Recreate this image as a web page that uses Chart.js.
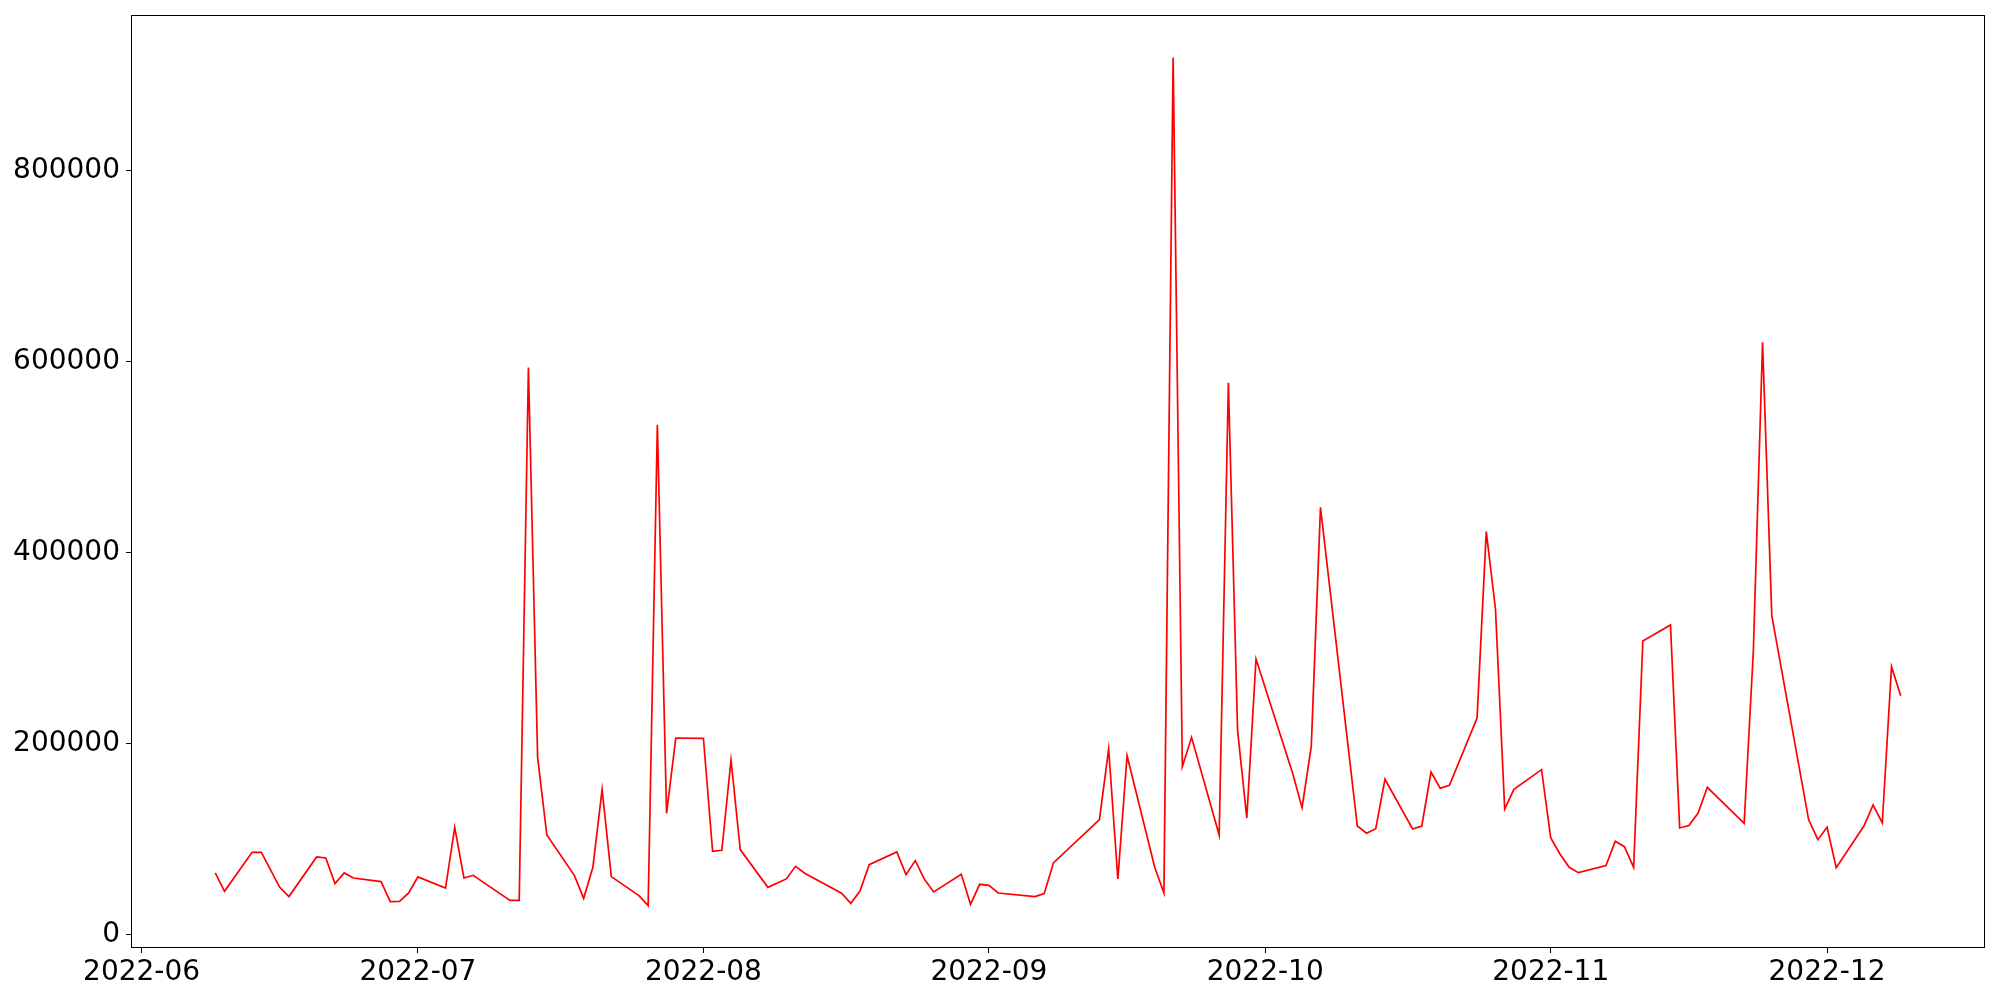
<!DOCTYPE html>
<html>
<head>
<meta charset="utf-8">
<script src="https://cdn.jsdelivr.net/npm/chart.js@4.4.1/dist/chart.umd.min.js"></script>
<style>
    html, body { margin: 0; padding: 0; background: white; }
    #wrap { width: 2000px; height: 1000px; }
</style>
</head>
<body>
<div id="wrap"><canvas id="volumeChart" width="2000" height="1000"></canvas></div>
<script>
// Trading days and values
const dates = [
    "2022-06-09", "2022-06-10", "2022-06-13", "2022-06-14", "2022-06-16", "2022-06-17",
    "2022-06-20", "2022-06-21", "2022-06-22", "2022-06-23", "2022-06-24",
    "2022-06-27", "2022-06-28", "2022-06-29", "2022-06-30", "2022-07-01",
    "2022-07-04", "2022-07-05", "2022-07-06", "2022-07-07",
    "2022-07-11", "2022-07-12", "2022-07-13", "2022-07-14", "2022-07-15",
    "2022-07-18", "2022-07-19", "2022-07-20", "2022-07-21", "2022-07-22",
    "2022-07-25", "2022-07-26", "2022-07-27", "2022-07-28", "2022-07-29",
    "2022-08-01", "2022-08-02", "2022-08-03", "2022-08-04", "2022-08-05",
    "2022-08-08", "2022-08-10", "2022-08-11", "2022-08-12",
    "2022-08-16", "2022-08-17", "2022-08-18", "2022-08-19",
    "2022-08-22", "2022-08-23", "2022-08-24", "2022-08-25", "2022-08-26",
    "2022-08-29", "2022-08-30", "2022-08-31", "2022-09-01", "2022-09-02",
    "2022-09-06", "2022-09-07", "2022-09-08",
    "2022-09-13", "2022-09-14", "2022-09-15", "2022-09-16",
    "2022-09-19", "2022-09-20", "2022-09-21", "2022-09-22", "2022-09-23",
    "2022-09-26", "2022-09-27", "2022-09-28", "2022-09-29", "2022-09-30",
    "2022-10-04", "2022-10-05", "2022-10-06", "2022-10-07",
    "2022-10-11", "2022-10-12", "2022-10-13", "2022-10-14",
    "2022-10-17", "2022-10-18", "2022-10-19", "2022-10-20", "2022-10-21",
    "2022-10-24", "2022-10-25", "2022-10-26", "2022-10-27", "2022-10-28",
    "2022-10-31", "2022-11-01", "2022-11-02", "2022-11-03", "2022-11-04",
    "2022-11-07", "2022-11-08", "2022-11-09", "2022-11-10", "2022-11-11",
    "2022-11-14", "2022-11-15", "2022-11-16", "2022-11-17", "2022-11-18",
    "2022-11-22", "2022-11-23", "2022-11-24", "2022-11-25",
    "2022-11-29", "2022-11-30", "2022-12-01", "2022-12-02",
    "2022-12-05", "2022-12-06", "2022-12-07", "2022-12-08", "2022-12-09"
];

const values = [
    64600, 45300, 86100, 86100, 49500, 39800,
    81300, 80300, 53400, 64600, 59300,
    55500, 34500, 34900, 43600, 60400,
    48800, 112300, 59300, 62100,
    35900, 35900, 593700, 185600, 104300,
    61800, 38000, 70500, 152100, 60700,
    40800, 30400, 533800, 127000, 205800,
    205500, 87200, 88300, 182800, 89000,
    49500, 58300, 71500, 64200,
    43300, 32800, 45700, 73300,
    86500, 62800, 77500, 57900, 44700,
    63200, 31800, 52700, 51600, 43600,
    39800, 42900, 75000,
    120400, 194300, 58300, 187300,
    70500, 43600, 918200, 175800, 206500,
    104300, 577700, 213500, 122100, 288500,
    168200, 132900, 197100, 447200,
    113700, 106100, 110900, 162600,
    110600, 113700, 170200, 153200, 156300,
    226800, 421800, 340900, 131500, 152100,
    172700, 101200, 84400, 70500, 64900,
    72200, 97700, 92100, 70500, 307400,
    324100, 111600, 114100, 127300, 154200,
    116500, 297200, 619900, 333900,
    120400, 99400, 112300, 70100,
    113700, 135700, 116900, 280500, 250100
];

// Month ticks on the x axis
const monthTicks = ["2022-06-01", "2022-07-01", "2022-08-01", "2022-09-01", "2022-10-01", "2022-11-01", "2022-12-01"];
const monthLabels = ["2022-06", "2022-07", "2022-08", "2022-09", "2022-10", "2022-11", "2022-12"];

// Y axis ticks
const yTicks = [0, 200000, 400000, 600000, 800000];

// Days since 2022-06-01 (works as a plain linear x scale, no date adapter needed)
const dayMs = 86400000;
function toDay(s) {
    return (Date.parse(s) - Date.parse("2022-06-01")) / dayMs;
}

let points = [];
for (let i = 0; i < dates.length; i++) {
    points.push({x: toDay(dates[i]), y: values[i]});
}

// matplotlib style 5% margins
const xFirst = toDay(dates[0]);
const xLast = toDay(dates[dates.length - 1]);
const xPad = (xLast - xFirst) * 0.05;
const yMin = Math.min(...values);
const yMax = Math.max(...values);
const yPad = (yMax - yMin) * 0.05;

// Draws the black box round the plot area, snapped to whole pixels
const framePlugin = {
    id: 'frame',
    afterDraw: (chart) => {
        const {ctx, chartArea} = chart;
        const left = Math.round(chartArea.left) + 0.5;
        const top = Math.round(chartArea.top) + 0.5;
        const right = Math.round(chartArea.right) - 0.5;
        const bottom = Math.round(chartArea.bottom) - 0.5;
        ctx.save();
        ctx.strokeStyle = '#000';
        ctx.lineWidth = 1;
        ctx.strokeRect(left, top, right - left, bottom - top);
        ctx.restore();
    }
};

Chart.defaults.font.family = "'DejaVu Sans', sans-serif";
Chart.defaults.font.size = 28;
Chart.defaults.color = '#000';

const ctx = document.getElementById('volumeChart');

new Chart(ctx, {
    type: 'line',
    data: {
        datasets: [{
            data: points,
            borderColor: '#ff0000',
            borderWidth: 1.7,
            pointRadius: 0,
            tension: 0,
            fill: false
        }]
    },
    options: {
        responsive: false,
        animation: false,
        devicePixelRatio: 1,
        layout: {
            padding: {left: 0, top: 15, right: 15, bottom: 0}
        },
        plugins: {
            legend: {display: false},
            tooltip: {enabled: false}
        },
        scales: {
            x: {
                type: 'linear',
                min: xFirst - xPad,
                max: xLast + xPad,
                afterBuildTicks: (scale) => {
                    scale.ticks = monthTicks.map(s => ({value: toDay(s)}));
                },
                afterFit: (scale) => {
                    scale.height = 52;
                    scale.paddingLeft = 0;
                    scale.paddingRight = 0;
                },
                ticks: {
                    autoSkip: false,
                    maxRotation: 0,
                    padding: 3,
                    color: '#000',
                    callback: (value) => {
                        const idx = monthTicks.findIndex(s => toDay(s) === value);
                        return idx >= 0 ? monthLabels[idx] : '';
                    }
                },
                grid: {
                    drawOnChartArea: false,
                    drawTicks: true,
                    tickLength: 5,
                    color: '#000',
                    lineWidth: 1
                },
                border: {display: false}
            },
            y: {
                type: 'linear',
                min: yMin - yPad,
                max: yMax + yPad,
                afterBuildTicks: (scale) => {
                    scale.ticks = yTicks.map(v => ({value: v}));
                },
                afterFit: (scale) => {
                    scale.width = 131;
                    scale.paddingTop = 0;
                    scale.paddingBottom = 0;
                },
                ticks: {
                    padding: 6,
                    color: '#000',
                    callback: (value) => String(value)
                },
                grid: {
                    drawOnChartArea: false,
                    drawTicks: true,
                    tickLength: 5,
                    color: '#000',
                    lineWidth: 1
                },
                border: {display: false}
            }
        }
    },
    plugins: [framePlugin]
});
</script>
</body>
</html>
